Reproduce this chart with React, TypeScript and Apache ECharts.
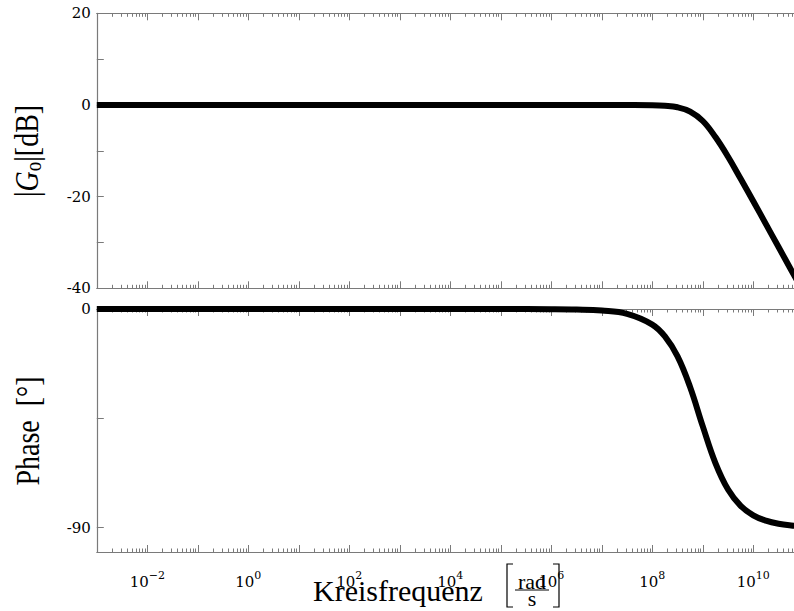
import React, { useEffect, useRef } from "react";
import * as echarts from "echarts";

// log10 of angular frequency (rad/s)
const logOmega = [-3, -1, 1, 3, 5, 6, 6.5, 7, 7.5, 8, 8.25, 8.5, 8.75, 9, 9.25, 9.5, 9.75, 10, 10.25, 10.5, 10.75, 11];
// |Go| in dB
const magnitudeDb = [0, 0, 0, 0, 0, 0, 0, 0, -0.01, -0.05, -0.17, -0.5, -1.45, -3.5, -7.0, -11.3, -16.1, -21.0, -26.0, -31.0, -36.0, -41.0];
// phase in degrees
const phaseDeg = [0, 0, 0, 0, -0.01, -0.06, -0.2, -0.64, -2.0, -6.4, -11.3, -19.5, -32.2, -48.3, -63.4, -74.3, -81.0, -84.9, -87.1, -88.4, -89.1, -89.5];

const xDecades = [-3, 11];
const xLabelExponents = [-2, 0, 2, 4, 6, 8, 10];
const magTicks = [-40, 20];
const magLabelStep = 20;
const phaseTicks = [0, -45, -90];
const phaseLabels = [0, -90];
const minorFactors = [2, 3, 4, 5, 6, 7, 8, 9];

const AX = "#7a7a7a";
const TICK_FONT = "DejaVu Serif";
const TITLE_FONT = "Liberation Serif";

export default function App() {
  const ref = useRef<HTMLDivElement>(null);
  useEffect(() => {
    if (!ref.current) return;
    const chart = echarts.init(ref.current, undefined, { renderer: "svg" });

    const minorValues: number[] = [];
    for (let n = xDecades[0]; n < xDecades[1]; n++) {
      minorFactors.forEach((k) => minorValues.push(n + Math.log10(k)));
    }

    const majorX = (gridIndex: number, position: string, labels: boolean) => ({
      type: "value",
      gridIndex,
      position,
      min: xDecades[0],
      max: xDecades[1],
      interval: 1,
      splitLine: { show: false },
      axisLine: { onZero: false, lineStyle: { color: AX, width: 1.2 } },
      axisTick: { inside: true, length: 7, lineStyle: { color: AX, width: 1 } },
      axisLabel: labels
        ? {
            show: true,
            margin: 15,
            formatter: (v: number) =>
              xLabelExponents.indexOf(v) >= 0
                ? `{b|10}{e|${v < 0 ? "\u2212" : ""}${Math.abs(v)}}`
                : "",
            rich: {
              b: { fontFamily: TICK_FONT, fontSize: 15, color: "#000", verticalAlign: "bottom", lineHeight: 22 },
              e: { fontFamily: TICK_FONT, fontSize: 11, color: "#000", verticalAlign: "bottom", lineHeight: 22, padding: [0, 0, 8, 0] },
            },
          }
        : { show: false },
    });
    const minorX = (gridIndex: number, position: string) => ({
      type: "value",
      gridIndex,
      position,
      min: xDecades[0],
      max: xDecades[1],
      splitLine: { show: false },
      axisLine: { show: false, onZero: false },
      axisTick: { inside: true, length: 3.5, customValues: minorValues, lineStyle: { color: AX, width: 1 } },
      axisLabel: { show: false },
    });

    const option: any = {
      animation: false,
      grid: [
        { left: 96.8, top: 13.3, width: 707, height: 275 },
        { left: 96.8, top: 309, width: 707, height: 243 },
      ],
      xAxis: [
        majorX(0, "bottom", false),
        majorX(0, "top", false),
        majorX(1, "bottom", true),
        majorX(1, "top", false),
        minorX(0, "bottom"),
        minorX(0, "top"),
        minorX(1, "bottom"),
        minorX(1, "top"),
      ],
      yAxis: [
        {
          type: "value",
          gridIndex: 0,
          min: magTicks[0],
          max: magTicks[1],
          interval: 10,
          splitLine: { show: false },
          axisLine: { onZero: false, lineStyle: { color: AX, width: 1.2 } },
          axisTick: { inside: true, length: 7, lineStyle: { color: AX, width: 1 } },
          axisLabel: {
            margin: 6,
            showMinLabel: true,
            showMaxLabel: true,
            fontFamily: TICK_FONT,
            fontSize: 15,
            color: "#000",
            formatter: (v: number) => (v % magLabelStep === 0 ? String(v) : ""),
          },
        },
        {
          type: "value",
          gridIndex: 1,
          min: -100,
          max: 0,
          splitLine: { show: false },
          axisLine: { onZero: false, lineStyle: { color: AX, width: 1.2 } },
          axisTick: { inside: true, length: 7, customValues: phaseTicks, lineStyle: { color: AX, width: 1 } },
          axisLabel: {
            margin: 6,
            customValues: phaseLabels,
            fontFamily: TICK_FONT,
            fontSize: 15,
            color: "#000",
          },
        },
      ],
      series: [
        {
          type: "line",
          xAxisIndex: 0,
          yAxisIndex: 0,
          data: logOmega.map((x, i) => [x, magnitudeDb[i]]),
          showSymbol: false,
          smooth: 0.4,
          lineStyle: { color: "#000", width: 6 },
          clip: true,
        },
        {
          type: "line",
          xAxisIndex: 2,
          yAxisIndex: 1,
          data: logOmega.map((x, i) => [x, phaseDeg[i]]),
          showSymbol: false,
          smooth: 0.4,
          lineStyle: { color: "#000", width: 6 },
          clip: true,
        },
      ],
      graphic: [
        {
          type: "text",
          x: 313,
          y: 590,
          z: 100,
          style: { text: "Kreisfrequenz", fontFamily: TITLE_FONT, fontSize: 30, fill: "#000", align: "left", verticalAlign: "middle" },
        },
        {
          type: "text",
          x: 532,
          y: 581.5,
          z: 100,
          style: { text: "rad", fontFamily: TITLE_FONT, fontSize: 22, fill: "#000", align: "center", verticalAlign: "middle" },
        },
        {
          type: "line",
          z: 100,
          shape: { x1: 515, y1: 590, x2: 549, y2: 590 },
          style: { stroke: "#000", lineWidth: 1 },
        },
        {
          type: "text",
          x: 532,
          y: 598.5,
          z: 100,
          style: { text: "s", fontFamily: TITLE_FONT, fontSize: 22, fill: "#000", align: "center", verticalAlign: "middle" },
        },
        {
          type: "polyline",
          z: 100,
          shape: { points: [[513, 564], [507, 564], [507, 607], [513, 607]] },
          style: { stroke: "#000", lineWidth: 1.2, fill: null },
        },
        {
          type: "polyline",
          z: 100,
          shape: { points: [[553, 564], [559, 564], [559, 607], [553, 607]] },
          style: { stroke: "#000", lineWidth: 1.2, fill: null },
        },
        {
          type: "text",
          x: 27,
          y: 151,
          rotation: Math.PI / 2,
          scaleY: 1.22,
          z: 100,
          style: {
            text: "{n||}{g|G}{s|o}{n||}{n|[dB]}",
            align: "center",
            verticalAlign: "middle",
            rich: {
              n: { fontFamily: TITLE_FONT, fontSize: 28, fill: "#000" },
              g: { fontFamily: TITLE_FONT, fontSize: 28, fontStyle: "italic", fill: "#000" },
              s: { fontFamily: TITLE_FONT, fontSize: 19, fill: "#000", padding: [10, 0, 0, 0] },
            },
          },
        },
        {
          type: "text",
          x: 28,
          y: 431,
          rotation: Math.PI / 2,
          scaleY: 1.22,
          z: 100,
          style: {
            text: "Phase  [\u00b0]",
            fontFamily: TITLE_FONT,
            fontSize: 28,
            fill: "#000",
            align: "center",
            verticalAlign: "middle",
          },
        },
      ],
    };
    chart.setOption(option);
    return () => chart.dispose();
  }, []);

  return (
    <div style={{ position: "fixed", left: 0, top: 0, width: 794, height: 611, overflow: "hidden", background: "#fff" }}>
      <div ref={ref} style={{ position: "absolute", left: 0, top: 0, width: 812, height: 611 }} />
    </div>
  );
}
